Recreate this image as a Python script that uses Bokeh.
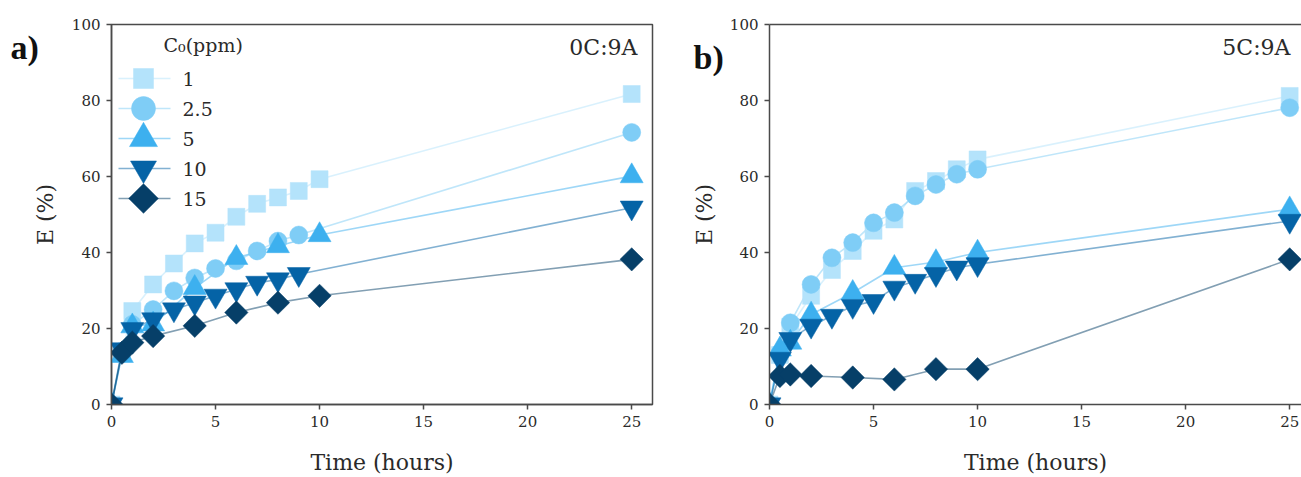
import numpy as np
from bokeh.plotting import figure
from bokeh.models import (ColumnDataSource, Range1d, FixedTicker, Label, LinearAxis)
from bokeh.layouts import row
from bokeh.embed import file_html
from bokeh.resources import INLINE

# ---------------- data ----------------
LEVELS = ["1", "2.5", "5", "10", "15"]

# panel a) 0C:9A
T_A_1 = [0, 0.5, 1, 2, 3, 4, 5, 6, 7, 8, 9, 10, 25]
E_A_1 = [0, 13.5, 24.6, 31.6, 37.1, 42.4, 45.2, 49.4, 52.8, 54.5, 56.2, 59.3, 81.7]
T_A_25 = [0, 0.5, 1, 2, 3, 4, 5, 6, 7, 8, 9, 25]
E_A_25 = [0, 14.0, 21.1, 25.0, 29.9, 33.3, 35.8, 37.8, 40.4, 43.0, 44.6, 71.6]
T_A_5 = [0, 0.5, 1, 2, 4, 6, 8, 10, 25]
E_A_5 = [0, 12.8, 20.6, 21.1, 30.7, 38.6, 41.7, 44.6, 60.1]
T_A_10 = [0, 0.5, 1, 2, 3, 4, 5, 6, 7, 8, 9, 25]
E_A_10 = [0, 14.5, 19.8, 22.4, 25.0, 26.8, 28.6, 30.3, 32.0, 32.9, 34.3, 51.8]
T_A_15 = [0, 0.5, 1, 2, 4, 6, 8, 10, 25]
E_A_15 = [0, 13.6, 16.3, 18.0, 20.7, 24.2, 26.8, 28.6, 38.2]

# panel b) 5C:9A
T_B_1 = [0, 0.5, 1, 2, 3, 4, 5, 6, 7, 8, 9, 10, 25]
E_B_1 = [0, 13.0, 20.5, 28.6, 35.4, 40.4, 45.7, 48.7, 56.2, 58.8, 61.9, 64.5, 81.2]
T_B_25 = [0, 0.5, 1, 2, 3, 4, 5, 6, 7, 8, 9, 10, 25]
E_B_25 = [0, 13.5, 21.5, 31.6, 38.6, 42.6, 47.8, 50.5, 54.9, 57.9, 60.6, 61.9, 78.1]
T_B_5 = [0, 0.5, 1, 2, 4, 6, 8, 10, 25]
E_B_5 = [0, 14.5, 16.3, 23.7, 29.4, 36.0, 37.5, 40.0, 51.4]
T_B_10 = [0, 0.5, 1, 2, 3, 4, 5, 6, 7, 8, 9, 10, 25]
E_B_10 = [0, 12.0, 17.2, 20.7, 23.3, 25.9, 27.2, 30.7, 32.5, 34.3, 36.0, 36.9, 48.3]
T_B_15 = [0, 0.5, 1, 2, 4, 6, 8, 10, 25]
E_B_15 = [0, 7.5, 7.9, 7.5, 7.1, 6.6, 9.3, 9.3, 38.2]

X_TICKS = [0, 5, 10, 15, 20, 25]
Y_TICKS = [0, 20, 40, 60, 80, 100]

# ---------------- style / layout ----------------
SERIF = "DejaVu Serif"
BOLD_SERIF = "Liberation Serif"
AXIS_COLOR = "#4a4a4a"
TEXT_COLOR = "#2a2a2a"
COLORS = ["#b4e3fb", "#7fcdf6", "#3db0ef", "#0563a6", "#063f68"]
MARKERS = ["square", "circle", "triangle", "inverted_triangle", "square"]
ANGLES = [0, 0, 0, 0, np.pi / 4]
SIZES = [17, 18, 23, 23, 16.5]
LEG_SIZES = [20, 24, 28, 26, 21]

WIN_W, WIN_H = 1301, 477
FRAME_TOP, FRAME_H = 24, 380   # page pixels
FRAME_BOTTOM = FRAME_TOP + FRAME_H
A_LEFT, A_W, A_XEND, A_RIGHT_BORDER = 111, 541, 26.0, 4
B_LEFT = 769
B_W = WIN_W - B_LEFT
B_XEND = B_W / (A_W / A_XEND)


def style_axes(p, y_label_standoff):
    xa, ya = p.below[0], p.left[0]
    for ax in (xa, ya):
        ax.axis_line_color = AXIS_COLOR
        ax.axis_line_width = 1.5
        ax.major_tick_line_color = AXIS_COLOR
        ax.major_tick_line_width = 1.5
        ax.major_tick_out = 5
        ax.major_tick_in = 0
        ax.minor_tick_line_color = None
        ax.minor_tick_out = 0
        ax.major_label_text_font = SERIF
        ax.major_label_text_font_size = "15px"
        ax.major_label_text_color = TEXT_COLOR
        ax.major_label_standoff = 6
        ax.axis_label_text_font = SERIF
        ax.axis_label_text_font_size = "22px"
        ax.axis_label_text_font_style = "normal"
        ax.axis_label_text_color = TEXT_COLOR
    xa.ticker = FixedTicker(ticks=X_TICKS)
    ya.ticker = FixedTicker(ticks=Y_TICKS)
    xa.axis_label = "Time (hours)"
    ya.axis_label = "E (%)"
    xa.axis_label_standoff = 20
    ya.axis_label_standoff = y_label_standoff
    p.xgrid.grid_line_color = None
    p.ygrid.grid_line_color = None


def make_panel(series, x_end, frame_w, border_l, border_r, full_box, y_label_standoff):
    p = figure(frame_width=frame_w, frame_height=FRAME_H,
               x_range=Range1d(0, x_end), y_range=Range1d(0, 100),
               min_border_left=border_l, min_border_right=border_r,
               min_border_top=FRAME_TOP, min_border_bottom=WIN_H - FRAME_BOTTOM,
               output_backend="svg", toolbar_location=None)
    p.background_fill_color = "white"
    p.border_fill_color = "white"
    style_axes(p, y_label_standoff)
    if full_box:
        p.outline_line_color = AXIS_COLOR
        p.outline_line_width = 1.5
    else:
        p.outline_line_color = None
        top = LinearAxis(ticker=FixedTicker(ticks=[]), axis_line_color=AXIS_COLOR,
                         axis_line_width=1.5, major_tick_line_color=None,
                         major_tick_out=0, major_tick_in=0,
                         minor_tick_line_color=None, minor_tick_out=0,
                         major_label_standoff=0, major_label_text_font_size="0px")
        p.add_layout(top, "above")
    sources = [ColumnDataSource(dict(x=t, y=e)) for t, e in series]
    for i, src in enumerate(sources):
        p.line("x", "y", source=src, line_color=COLORS[i], line_alpha=0.5, line_width=1.6)
    for i, src in enumerate(sources):
        p.scatter("x", "y", source=src, marker=MARKERS[i], size=SIZES[i], angle=ANGLES[i],
                  fill_color=COLORS[i], line_color=COLORS[i], line_width=0.5)
    return p


SER_A = [(T_A_1, E_A_1), (T_A_25, E_A_25), (T_A_5, E_A_5), (T_A_10, E_A_10), (T_A_15, E_A_15)]
SER_B = [(T_B_1, E_B_1), (T_B_25, E_B_25), (T_B_5, E_B_5), (T_B_10, E_B_10), (T_B_15, E_B_15)]

pa = make_panel(SER_A, A_XEND, A_W, A_LEFT, A_RIGHT_BORDER, True, 11)
b_border_left = B_LEFT - (A_LEFT + A_W + A_RIGHT_BORDER)
pb = make_panel(SER_B, B_XEND, B_W, b_border_left, 0, False, 10)


def ax_a(px):
    return (px - A_LEFT) / (A_W / A_XEND)


def ax_b(px):
    return (px - B_LEFT) / (B_W / B_XEND)


def ay(py):
    return (FRAME_BOTTOM - py) / (FRAME_H / 100.0)


# hand-built legend (panel a), laid out in page pixels
LEG_ROW0, LEG_STEP = 78, 30
LEG_LINE = (118, 170)
LEG_MARK_X = 143
LEG_TEXT_X = 182
for i in range(5):
    py = LEG_ROW0 + i * LEG_STEP
    yy = ay(py)
    pa.line([ax_a(LEG_LINE[0]), ax_a(LEG_LINE[1])], [yy, yy], line_color=COLORS[i],
            line_alpha=0.5, line_width=1.6)
    pa.scatter([ax_a(LEG_MARK_X)], [yy], marker=MARKERS[i], size=LEG_SIZES[i],
               angle=ANGLES[i], fill_color=COLORS[i], line_color=COLORS[i], line_width=0.5)
    pa.add_layout(Label(x=LEG_TEXT_X - A_LEFT, y=FRAME_BOTTOM - py, x_units="screen",
                        y_units="screen", text=LEVELS[i], text_font=SERIF,
                        text_font_size="19px", text_color=TEXT_COLOR,
                        text_baseline="middle", text_align="left"))
pa.add_layout(Label(x=163 - A_LEFT, y=FRAME_BOTTOM - 44, x_units="screen", y_units="screen",
                    text="C\u2080(ppm)", text_font=SERIF, text_font_size="19px",
                    text_color=TEXT_COLOR, text_baseline="middle", text_align="left"))

# condition annotations inside the frames
pa.add_layout(Label(x=637 - A_LEFT, y=FRAME_BOTTOM - 47, x_units="screen", y_units="screen",
                    text="0C:9A", text_font=SERIF, text_font_size="22px",
                    text_color=TEXT_COLOR, text_baseline="middle", text_align="right"))
pb.add_layout(Label(x=1290 - B_LEFT, y=FRAME_BOTTOM - 47, x_units="screen", y_units="screen",
                    text="5C:9A", text_font=SERIF, text_font_size="22px",
                    text_color=TEXT_COLOR, text_baseline="middle", text_align="right"))

# panel letters, placed in the left side panels (not clipped to the frame)
pa.add_layout(Label(x=ax_a(10), y=ay(47), text="a)", text_font=BOLD_SERIF,
                    text_font_size="34px", text_font_style="bold", text_color="#111111",
                    text_baseline="middle", text_align="left"), "left")
pb.add_layout(Label(x=ax_b(693), y=ay(57), text="b)", text_font=BOLD_SERIF,
                    text_font_size="34px", text_font_style="bold", text_color="#111111",
                    text_baseline="middle", text_align="left"), "left")

layout = row(pa, pb)
open("out.html", "w").write(file_html(layout, INLINE))
